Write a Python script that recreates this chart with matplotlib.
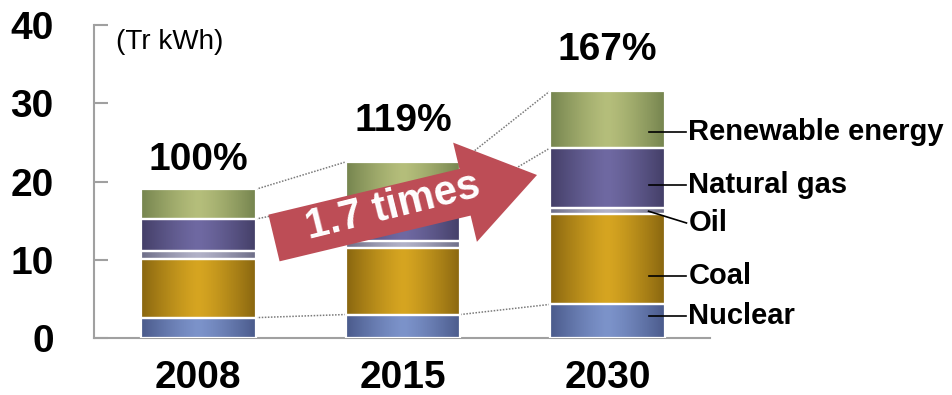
import numpy as np
import matplotlib.pyplot as plt
from matplotlib.colors import LinearSegmentedColormap
from matplotlib.patches import FancyArrow
from matplotlib.transforms import IdentityTransform

plt.rcParams['font.family'] = ['Liberation Sans', 'DejaVu Sans']

# data (Tr kWh)
years = ['2008', '2015', '2030']
nuclear = [2.6, 3.0, 4.3]
coal = [7.5, 8.5, 11.5]
oil = [1.0, 0.9, 0.8]
gas = [4.1, 5.1, 7.7]
renewable = [3.8, 5.0, 7.3]
pct_labels = ['100%', '119%', '167%']
source_names = ['Nuclear', 'Coal', 'Oil', 'Natural gas', 'Renewable energy']
yticks = [0, 10, 20, 30, 40]

series = [nuclear, coal, oil, gas, renewable]
# (edge colour, centre colour) for the horizontal gradient
grad_colors = [('#4b5b8c', '#7c93ca'),
               ('#8a6710', '#d6a521'),
               ('#6e6e88', '#b2b2c8'),
               ('#443f68', '#6f69a2'),
               ('#76854f', '#b5be7b')]

fig = plt.figure(figsize=(9.53, 3.95), dpi=100)
ax = fig.add_axes([0.0986, 0.1443, 0.6464, 0.7924])

x = np.arange(len(years))
w = 0.56
bottom = np.zeros(len(years))
tops = []
profile = 1 - np.abs(np.linspace(-1, 1, 64)) ** 1.3
for vals, (c_edge, c_mid) in zip(series, grad_colors):
    bars = ax.bar(x, vals, w, bottom=bottom, color=c_mid, edgecolor='white',
                  linewidth=1.6, zorder=2)
    cmap = LinearSegmentedColormap.from_list('g', [c_edge, c_mid])
    for b in bars:
        im = ax.imshow(profile[None, :], cmap=cmap, vmin=0, vmax=1, aspect='auto',
                       extent=(b.get_x(), b.get_x() + b.get_width(),
                               b.get_y(), b.get_y() + b.get_height()),
                       zorder=2.5)
        im.set_clip_path(b)
    # white separators on top of the gradients
    ax.bar(x, vals, w, bottom=bottom, facecolor='none', edgecolor='white',
           linewidth=1.6, zorder=3)
    bottom = bottom + np.array(vals)
    tops.append(bottom.copy())

# dotted series lines (nuclear top, gas top, total)
for lvl in (tops[0], tops[3], tops[4]):
    for i in range(len(years) - 1):
        ax.plot([x[i] + w / 2, x[i + 1] - w / 2], [lvl[i], lvl[i + 1]],
                ls=(0, (1, 1)), color='#7a7a7a', lw=1.1, zorder=1)

# percentage labels
pct_offset = [14, 22, 22]
for xi, top, lab, off in zip(x, tops[4], pct_labels, pct_offset):
    ax.annotate(lab, (xi, top), xytext=(0, off), textcoords='offset points',
                ha='center', va='baseline', fontsize=28, fontweight='bold')

# category labels with leader lines on the last bar
label_pos = [2.8, 7.9, 14.7, 19.55, 26.3]
start_pos = [2.8, 7.9, 16.2, 19.55, 26.3]
for name, ly, sy in zip(source_names, label_pos, start_pos):
    ax.plot([x[-1] + 0.2, x[-1] + 0.385], [sy, ly], color='black', lw=1.2,
            zorder=4, clip_on=False)
    ax.text(x[-1] + 0.395, ly, name, ha='left', va='center', fontsize=21,
            fontweight='bold', clip_on=False)

# big arrow
arr = FancyArrow(274, 157, 263, 63, width=48, head_width=102, head_length=74,
                 length_includes_head=True, color='#bd4d56', ec='none',
                 transform=IdentityTransform(), zorder=5)
fig.patches.append(arr)
fig.text(393, 188, '1.7 times', transform=IdentityTransform(), rotation=14,
         rotation_mode='anchor', ha='center', va='center', fontsize=30,
         fontweight='bold', color='white', zorder=6)

ax.text(0.035, 0.946, '(Tr kWh)', transform=ax.transAxes, ha='left', va='center',
        fontsize=20)

ax.set_xlim(-0.51, 2.5)
ax.set_ylim(0, 40)
ax.set_xticks(x)
ax.set_xticklabels(years, fontsize=28, fontweight='bold')
ax.set_yticks(yticks)
ax.set_yticklabels([str(t) for t in yticks], fontsize=28, fontweight='bold')
ax.tick_params(axis='x', length=0, pad=16)
ax.tick_params(axis='y', direction='in', length=10, width=1.5, color='#a0a0a0', pad=29)
for s in ('top', 'right'):
    ax.spines[s].set_visible(False)
for s in ('left', 'bottom'):
    ax.spines[s].set_color('#a0a0a0')
    ax.spines[s].set_linewidth(1.5)

fig.savefig('out.png', dpi=100)
